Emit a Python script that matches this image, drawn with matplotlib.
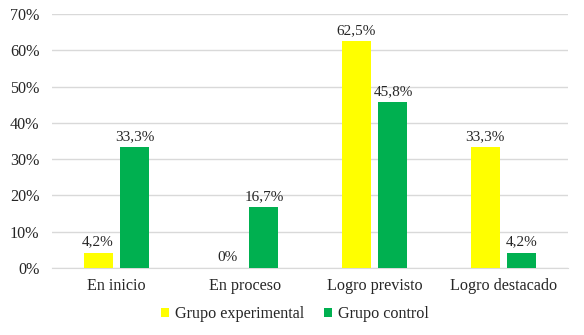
import matplotlib.pyplot as plt
import numpy as np

# ── Data ──────────────────────────────────────────────────────────────────────
categories = ["En inicio", "En proceso", "Logro previsto", "Logro destacado"]
experimental = [4.2, 0.0, 62.5, 33.3]
control = [33.3, 16.7, 45.8, 4.2]
series_names = ["Grupo experimental", "Grupo control"]

COLORS = {"exp": "#FFFF00", "ctrl": "#00B050", "grid": "#D9D9D9", "text": "#262626"}

plt.rcParams["font.family"] = ["Liberation Serif", "DejaVu Serif"]

fig = plt.figure(figsize=(5.84, 3.35), dpi=100)
ax = fig.add_axes([0.089, 0.2, 0.8836, 0.758])

x = np.arange(len(categories))
width = 0.225
offset = 0.143

bars_exp = ax.bar(x - offset, experimental, width, color=COLORS["exp"], label=series_names[0], zorder=3)
bars_ctrl = ax.bar(x + offset, control, width, color=COLORS["ctrl"], label=series_names[1], zorder=3)


def fmt(v):
    s = f"{v:.1f}".replace(".", ",")
    return "0%" if v == 0 else s + "%"


for bars, vals in ((bars_exp, experimental), (bars_ctrl, control)):
    for b, v in zip(bars, vals):
        ax.annotate(
            fmt(v),
            (b.get_x() + b.get_width() / 2, v),
            xytext=(0, 3),
            textcoords="offset points",
            ha="center",
            va="bottom",
            fontsize=11,
            color=COLORS["text"],
        )

ax.set_xlim(-0.5, len(categories) - 0.5)
ax.set_ylim(0, 70)
ax.set_yticks(np.arange(0, 71, 10))
ax.set_yticklabels([f"{t}%" for t in range(0, 71, 10)])
ax.set_xticks(x)
ax.set_xticklabels(categories)
ax.tick_params(axis="both", length=0, labelsize=11.6, labelcolor=COLORS["text"])
ax.tick_params(axis="y", pad=9)
ax.tick_params(axis="x", pad=7)

ax.grid(axis="y", color=COLORS["grid"], lw=1, zorder=0)
for side in ("top", "right", "left"):
    ax.spines[side].set_visible(False)
ax.spines["bottom"].set_color(COLORS["grid"])

fig.legend(
    loc="center",
    bbox_to_anchor=(0.505, 0.062),
    ncol=2,
    frameon=False,
    fontsize=11.6,
    handlelength=0.5,
    handleheight=0.5,
    handletextpad=0.4,
    columnspacing=1.2,
    labelcolor=COLORS["text"],
)

plt.savefig("out.png", dpi=100)
